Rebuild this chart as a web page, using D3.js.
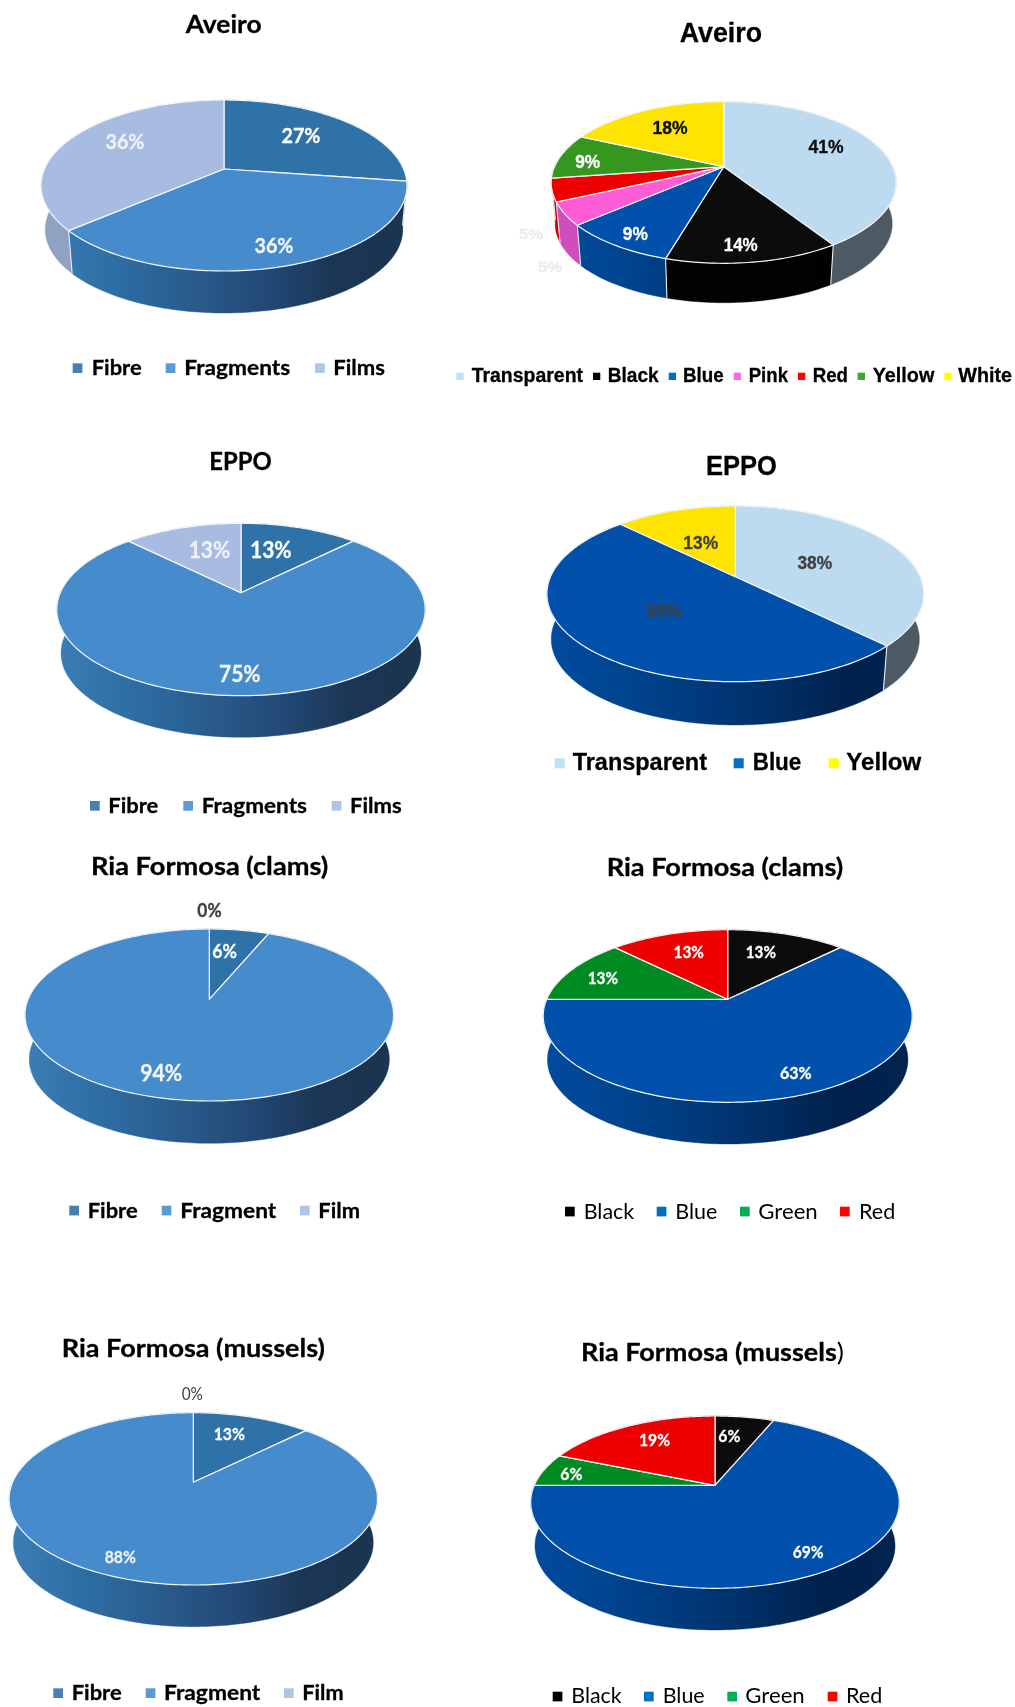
<!DOCTYPE html>
<html>
<head>
<meta charset="utf-8">
<script src="https://cdnjs.cloudflare.com/ajax/libs/d3/7.8.5/d3.min.js"></script>
<style>
html,body{margin:0;padding:0;background:#fff}
svg{display:block;filter:blur(0.35px)}
</style>
</head>
<body>
<svg id="chart" width="1015" height="1707"></svg>
<script>
// ---------- data ----------
const typeNamesPlural = ["Fibre", "Fragments", "Films"];
const typeNamesSingular = ["Fibre", "Fragment", "Film"];
const aveiroColorNames = ["Transparent", "Black", "Blue", "Pink", "Red", "Yellow", "White"];
const eppoColorNames = ["Transparent", "Blue", "Yellow"];
const riaColorNames = ["Black", "Blue", "Green", "Red"];

const aveiroTypeValues = [27.3, 36.35, 36.35];
const aveiroColorValues = [40.9, 13.6, 9.1, 4.55, 4.55, 9.1, 18.2];
const eppoTypeValues = [12.5, 75, 12.5];
const eppoColorValues = [37.5, 50, 12.5];
const clamsTypeValues = [6.25, 93.75, 0];
const clamsColorValues = [12.5, 62.5, 12.5, 12.5];
const musselsTypeValues = [12.5, 87.5, 0];
const musselsColorValues = [6.25, 68.75, 6.25, 18.75];

// ---------- styles ----------
const CAL = "Lato, 'Open Sans', sans-serif";
const ARI = "'Liberation Sans', Arial, sans-serif";
const fragWall = ["#3b7eb5", "#2d6ea4", "#2a5c8e", "#234a78", "#1b3653", "#1b3550"];
const blueWall = ["#004a9f", "#00458f", "#003a7c", "#002f66", "#00214c", "#002450"];
const face = {
  Fibre: "#2e72a8", Fragments: "#468ccd", Fragment: "#468ccd", Films: "#a7bce0", Film: "#a7bce0",
  Transparent: "#bcdaf0", Black: "#0c0c0c", Blue: "#0050ac", Pink: "#ff5cd8", Red: "#ee0000",
  Green: "#008a22", White: "#ffe400"
};
const wall = {
  Fibre: ["#2a5c8e"], Fragments: fragWall, Fragment: fragWall, Films: ["#8fa2c2"], Film: ["#8fa2c2"],
  Transparent: ["#4d5a63"], Black: ["#050505", "#000000"], Blue: blueWall, Pink: ["#d04dbd"], Red: ["#c80000"],
  Green: ["#006a1a"], Yellow: ["#2a7018"], White: ["#c0ac00"]
};
const swatchCommon = { Fibre: "#4a7fb3", Fragments: "#5b9bd5", Fragment: "#5b9bd5", Films: "#aec6e6", Film: "#aec6e6",
  Black: "#000000", Blue: "#0070c0", Red: "#ff0000", Pink: "#ff66e6", Green: "#00b050", Transparent: "#bde2f4" };

// ---------- layout, one entry per chart ----------
const charts = [
 { names: typeNamesPlural, values: aveiroTypeValues,
   geo: {cx:224, cy:169, rx:183, up:69, down:102, depth:42},
   title: {text:"Aveiro", x0:185.7, x1:261.7, y:32.7, size:25, font:CAL, weight:700},
   labels: {size:21, font:CAL, weight:700, pos:[[301,142.7,39,"#ffffff"],[274,253.3,39,"#f4f6fa"],[125,149,39,"#eef1f7"]]},
   legend: {size:21, font:CAL, weight:700, y:375, sy:363.3, ss:9.7, items:[[72.7,91.7,141.7],[165.7,184.3,290.3],[315,333.3,385]]} },
 { names: aveiroColorNames, values: aveiroColorValues,
   colorOverride: {Yellow:"#359620"},
   swatchOverride: {Yellow:"#3fa535", White:"#ffff00"},
   geo: {cx:723.7, cy:166.7, rx:172.5, up:65, down:96.6, depth:39.4},
   title: {text:"Aveiro", x0:679.7, x1:762, y:42.3, size:27, font:ARI, weight:700},
   labels: {size:18, font:ARI, weight:700, pos:[[826,152.7,35,"#0a0a0a"],[740.7,250.7,34,"#ffffff"],[635.3,240,25,"#ffffff"],
     [550,272,24,"#ececec"],[531,239,24,"#ececec"],[587.7,167.7,25,"#ffffff"],[670,134.3,35,"#0a0a0a"]], small:{3:14,4:14}},
   legend: {size:19.5, font:ARI, weight:700, y:382.3, sy:372.7, ss:7.3, items:[[456.3,471.7,583],[593,607.7,658.7],[668.7,683,723.7],[733.7,748.7,788],[798,812.7,848],[857.7,872.7,934.3],[944.3,958.3,1012]]} },
 { names: typeNamesPlural, values: eppoTypeValues,
   geo: {cx:241, cy:592.7, rx:184.2, up:69.4, down:103, depth:41.6},
   title: {text:"EPPO", x0:209.3, x1:271.7, y:470, size:24.5, font:CAL, weight:700},
   labels: {size:23, font:CAL, weight:700, pos:[[270.8,558.3,41.7,"#ffffff"],[239.8,682.3,41.7,"#f4f6fa"],[209.5,558.3,41.7,"#eef1f7"]]},
   legend: {size:21, font:CAL, weight:700, y:812.7, sy:801, ss:9.7, items:[[90,108.3,158.3],[183.3,201.7,307],[331.7,350,401.7]]} },
 { names: eppoColorNames, values: eppoColorValues,
   swatchOverride: {Yellow:"#ffff00"},
   colorOverride: {Yellow:"#ffe400"},
   geo: {cx:735.3, cy:576.7, rx:188.4, up:70.7, down:105, depth:43.3},
   title: {text:"EPPO", x0:706, x1:777, y:475, size:27.5, font:ARI, weight:700},
   labels: {size:18, font:ARI, weight:700, pos:[[814.8,569.3,34.7,"#404040"],[663.7,617.3,34.7,"#404040"],[700.7,549.3,34.7,"#404040"]]},
   legend: {size:24, font:ARI, weight:700, y:770, sy:758.3, ss:10, items:[[554.7,572.7,707],[733.7,752.7,801.3],[828.7,846.3,921.3]]} },
 { names: typeNamesSingular, values: clamsTypeValues,
   geo: {cx:209.3, cy:999.3, rx:184.3, up:70.3, down:101.7, depth:42.3},
   title: {text:"Ria Formosa (clams)", x0:91, x1:328.3, y:875, size:24.5, font:CAL, weight:700},
   labels: {size:23, font:CAL, weight:700, pos:[[224.7,957.7,24.7,"#ffffff"],[161.2,1080.7,42,"#f4f6fa"],[209.5,916.7,24.3,"#404040"]], small:{0:19,2:19}},
   legend: {size:21, font:CAL, weight:700, y:1217.7, sy:1205.7, ss:9.7, items:[[69.3,87.7,137.7],[161.7,180.3,276.3],[300,318.3,360]]} },
 { names: riaColorNames, values: clamsColorValues,
   geo: {cx:727.7, cy:999.3, rx:184.5, up:69.6, down:103, depth:41.7},
   title: {text:"Ria Formosa (clams)", x0:606.7, x1:843.3, y:875.7, size:24.5, font:CAL, weight:700},
   labels: {size:17, font:CAL, weight:700, pos:[[760.8,958.3,30.3,"#ffffff"],[795.8,1079,31.7,"#ffffff"],[602.8,984,30.3,"#ffffff"],[688.7,958.3,30.3,"#ffffff"]]},
   legend: {size:21, font:CAL, weight:400, y:1218.7, sy:1206.7, ss:9.7, items:[[565,583.7,634.3],[656.7,675.3,717.3],[740,758.3,817.7],[840,859,895.3]]} },
 { names: typeNamesSingular, values: musselsTypeValues,
   geo: {cx:193.3, cy:1482.3, rx:184.2, up:69.6, down:102.7, depth:41.7},
   title: {text:"Ria Formosa (mussels)", x0:61.7, x1:325, y:1357.3, size:24.5, font:CAL, weight:700},
   labels: {size:17, font:CAL, weight:700, pos:[[229.3,1440,31.3,"#ffffff"],[120.3,1562.7,31.3,"#eef1f7"],[192.3,1400.3,21.3,"#404040"]], weights:{2:400}},
   legend: {size:21, font:CAL, weight:700, y:1700, sy:1688.3, ss:9.7, items:[[53.3,71.7,121.7],[145.7,164,260.3],[284,302.3,343.7]]} },
 { names: riaColorNames, values: musselsColorValues,
   geo: {cx:715, cy:1485.3, rx:184.3, up:69.3, down:103, depth:41.7},
   title: {text:"Ria Formosa (mussels", tail:")", x0:581, x1:844, y:1360.7, size:24.5, font:CAL, weight:700},
   labels: {size:17, font:CAL, weight:700, pos:[[729.3,1441.7,22,"#ffffff"],[808.2,1558,31,"#ffffff"],[571.3,1479.7,22,"#ffffff"],[654.5,1446,31,"#ffffff"]]},
   legend: {size:21, font:CAL, weight:400, y:1703.3, sy:1691.7, ss:9.7, items:[[552.7,571.3,621.7],[644,662.7,704.7],[727.3,745.3,804.7],[827.7,846,882.3]]} }
];

// ---------- drawing ----------
const svg = d3.select("#chart");
const defs = svg.append("defs");
const pieGen = d3.pie().sort(null).value(d => d);
const path = d3.line();
const WALL_SCALE = 0.977;

function projector(g) {
  const k = (g.down - g.up) / (g.down + g.up);
  const ry = g.down * (1 - k);
  const rxp = g.rx * Math.sqrt(1 - k * k);
  const top = (a, r = 1) => {
    const u = r * Math.sin(a), v = -r * Math.cos(a), w = 1 - k * v;
    return [g.cx + rxp * u / w, g.cy + ry * v / w];
  };
  const offset = g.depth + (1 - WALL_SCALE) * g.down;
  const bottom = a => {
    const u = WALL_SCALE * Math.sin(a), v = -Math.cos(a), w = 1 - k * v;
    return [g.cx + rxp * u / w, g.cy + offset + WALL_SCALE * ry * v / w];
  };
  return { top, bottom };
}

function sampleAngles(a0, a1) {
  const n = Math.max(2, Math.ceil((a1 - a0) / 0.02));
  return d3.range(n + 1).map(i => a0 + (a1 - a0) * i / n);
}

function putText(parent, o) {
  const fill = o.fill || "#000";
  const t = parent.append("text")
    .attr("x", o.x0).attr("y", o.y)
    .attr("textLength", o.x1 - o.x0).attr("lengthAdjust", "spacingAndGlyphs")
    .attr("font-family", o.font).attr("font-size", o.size)
    .attr("font-weight", o.weight).attr("fill", fill)
    .text(o.text);
  if (o.weight >= 700) t.attr("stroke", fill).attr("stroke-width", 0.3);
  if (o.tail) t.append("tspan").attr("font-weight", 400).attr("stroke", "none").text(o.tail);
  return t;
}

charts.forEach((c, ci) => {
  const root = svg.append("g").attr("class", "chart-" + ci);
  const prj = projector(c.geo);
  const arcs = pieGen(c.values);
  const colorOf = n => (c.colorOverride && c.colorOverride[n]) || face[n];
  const swatchOf = n => (c.swatchOverride && c.swatchOverride[n]) || swatchCommon[n] || face[n];

  // side wall, back to front
  const midDepth = d => -Math.cos((d.startAngle + d.endAngle) / 2);
  const order = arcs.map((d, i) => ({d, i})).filter(o => o.d.endAngle > o.d.startAngle)
    .sort((p, q) => midDepth(p.d) - midDepth(q.d));
  order.forEach(({d, i}) => {
    const name = c.names[i];
    const stops = wall[name] || ["#444"];
    const id = `w${ci}_${i}`;
    const grad = defs.append("linearGradient").attr("id", id).attr("gradientUnits", "userSpaceOnUse")
      .attr("x1", c.geo.cx - c.geo.rx).attr("x2", c.geo.cx + c.geo.rx).attr("y1", 0).attr("y2", 0);
    stops.forEach((s, j) => grad.append("stop")
      .attr("offset", stops.length > 1 ? j / (stops.length - 1) : 0).attr("stop-color", s));
    const as = sampleAngles(d.startAngle, d.endAngle);
    const pts = as.map(a => prj.top(a)).concat(as.slice().reverse().map(a => prj.bottom(a)));
    root.append("path").attr("d", path(pts) + "Z").attr("fill", `url(#${id})`).attr("stroke", `url(#${id})`).attr("stroke-width", 0.4);
  });
  // wall separators
  arcs.filter(d => d.endAngle > d.startAngle && d.startAngle > 0).forEach(d => {
    root.append("path").attr("d", path([prj.top(d.startAngle), prj.bottom(d.startAngle)]))
      .attr("stroke", "#eef2f4").attr("stroke-width", 1.1).attr("fill", "none");
  });

  // top faces
  arcs.forEach((d, i) => {
    if (d.endAngle <= d.startAngle) return;
    const rim = sampleAngles(d.startAngle, d.endAngle).map(a => prj.top(a));
    const pts = [[c.geo.cx, c.geo.cy], ...rim];
    root.append("path").attr("d", path(pts) + "Z")
      .attr("fill", colorOf(c.names[i]))
      .attr("stroke", "#f4f7fa").attr("stroke-width", 1.2).attr("stroke-linejoin", "round");
  });

  // title
  putText(root, c.title);

  // value labels
  c.values.forEach((v, i) => {
    const [x, y, w, fill] = c.labels.pos[i];
    putText(root, {
      text: Math.round(v) + "%", x0: x - w / 2, x1: x + w / 2, y,
      size: (c.labels.small && c.labels.small[i]) || c.labels.size,
      font: c.labels.font,
      weight: (c.labels.weights && c.labels.weights[i]) || c.labels.weight,
      fill
    });
  });

  // legend
  c.names.forEach((n, i) => {
    const [sx, x0, x1] = c.legend.items[i];
    root.append("rect").attr("x", sx).attr("y", c.legend.sy)
      .attr("width", c.legend.ss).attr("height", c.legend.ss).attr("fill", swatchOf(n));
    putText(root, { text: n, x0, x1, y: c.legend.y, size: c.legend.size, font: c.legend.font, weight: c.legend.weight });
  });
});
</script>
</body>
</html>
